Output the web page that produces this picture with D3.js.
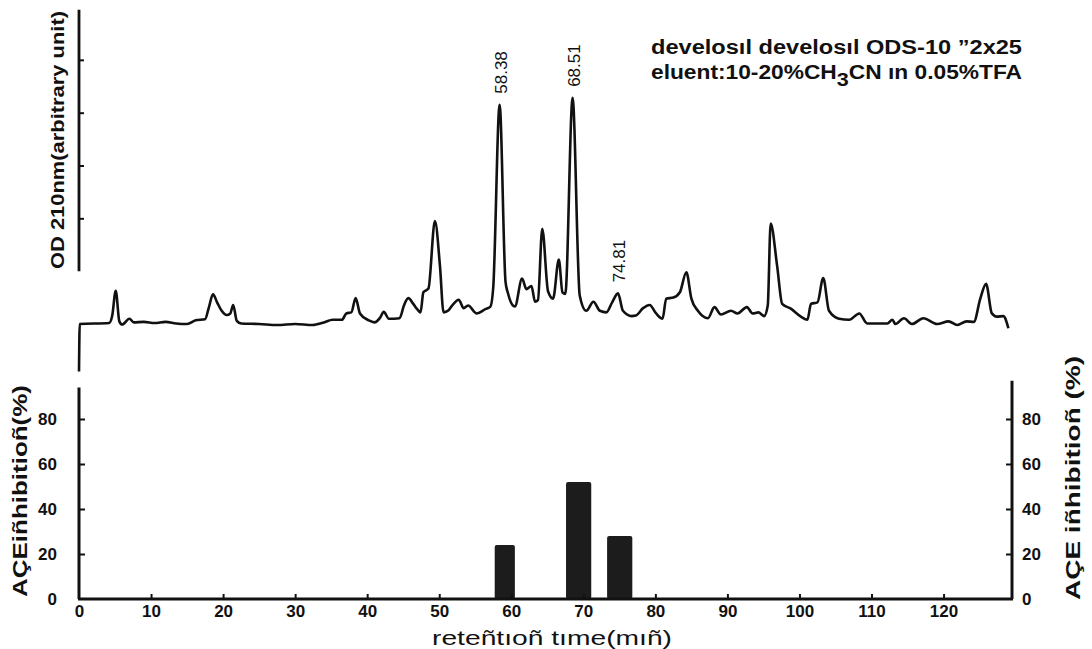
<!DOCTYPE html>
<html><head><meta charset="utf-8">
<script src="https://cdn.jsdelivr.net/npm/d3@7"></script>
<style>
body{margin:0;background:#fff}
text{font-family:"Liberation Sans",Arial,Helvetica,sans-serif;fill:#111}
</style>
</head><body>
<svg id="c" width="1092" height="649"></svg>
<script>
// ---- data ----
const retentionTime = [0,0.1,4.2,4.6,5.1,5.6,6.0,7.0,7.6,9,10.5,12,13.5,15,16.2,17.5,18.0,18.6,19.2,19.8,20.5,21.0,21.4,21.9,22.5,25,27.5,30,32.4,34,35.2,36.5,37.1,37.8,38.4,39.0,40.2,41.0,41.8,42.3,43.0,44.5,45.1,45.7,46.4,47.0,47.4,47.8,48.5,49.4,50.1,50.6,51.3,51.8,52.7,53.4,54.0,55.2,56.4,57.1,57.5,58.38,59.2,59.5,60.5,61.5,62.1,62.8,63.3,63.7,64.3,65.1,65.8,66.6,67.1,67.5,68.51,69.5,70.4,71.4,72.3,73.2,74.0,74.81,75.5,76.7,77.3,78.3,79.2,80.1,81.0,81.5,82.5,83.4,84.3,85.0,85.9,87.3,88.2,89.1,90.5,91.4,92.7,93.5,94.3,95.1,95.6,96.0,96.9,97.6,98.8,100.2,101.1,101.6,102.5,103.3,104.1,105.5,106.9,108.3,109.4,112.2,112.9,113.3,114.5,115.6,117.2,119.1,120.7,121.9,123.2,124.2,125.1,125.9,126.7,127.4,128.3,129.0];
const absorbance = [-0.9,0.0,0.02,0.15,0.63,0.05,-0.01,0.1,0.03,0.04,0.02,0.04,0.01,0.0,0.07,0.09,0.3,0.56,0.4,0.25,0.17,0.2,0.36,0.06,0.01,0.0,-0.02,0.0,-0.02,0.03,0.08,0.08,0.2,0.22,0.49,0.2,0.07,0.03,0.12,0.23,0.1,0.11,0.35,0.49,0.38,0.27,0.22,0.6,0.67,1.95,1.1,0.22,0.26,0.35,0.46,0.3,0.35,0.2,0.28,0.33,0.7,4.15,0.8,0.6,0.33,0.86,0.66,0.72,0.42,0.45,1.8,0.62,0.48,1.22,0.6,0.57,4.28,0.54,0.25,0.42,0.25,0.22,0.41,0.58,0.25,0.15,0.16,0.3,0.36,0.2,0.1,0.48,0.5,0.6,0.98,0.48,0.25,0.11,0.32,0.18,0.25,0.2,0.32,0.2,0.22,0.15,0.35,1.9,1.1,0.38,0.29,0.14,0.08,0.38,0.41,0.87,0.25,0.1,0.08,0.2,0.01,0.01,0.08,0.0,0.11,0.0,0.11,0.0,0.05,-0.02,0.05,0.04,0.48,0.76,0.2,0.14,0.15,-0.08];
const peakLabels = ["58.38","68.51","74.81"];
const peakTimes = [58.38, 68.51, 74.81];
const fractionStart = [57.7, 67.6, 73.3];
const fractionEnd = [60.5, 71.1, 76.8];
const aceInhibition = [24, 52, 28];
const timeTicks = [0,10,20,30,40,50,60,70,80,90,100,110,120];
const inhibitionTicks = [0,20,40,60,80];
const odTicks = [2,3,4,5];

// ---- layout ----
const svg = d3.select("#c");
svg.append("rect").attr("width",1092).attr("height",649).attr("fill","#fff");

const x = d3.scaleLinear().domain([0,129.5]).range([79,1012]);
const yOD = d3.scaleLinear().domain([0,6]).range([324,7]);
const yBar = d3.scaleLinear().domain([0,80]).range([599,419]);

// top OD axis
svg.append("line").attr("x1",79).attr("x2",79).attr("y1",yOD(1)).attr("y2",yOD(5.95))
  .attr("stroke","#111").attr("stroke-width",2.8);
const odAx = svg.append("g").attr("transform","translate(79,0)")
  .call(d3.axisRight(yOD).tickValues(odTicks).tickSize(5).tickFormat(""));
odAx.select(".domain").remove();
odAx.selectAll("line").attr("stroke","#111").attr("stroke-width",2);

function vText(cx, cy, str, size, len, bold){
  return svg.append("text").attr("transform",`translate(${cx},${cy}) rotate(-90)`)
    .attr("text-anchor","middle").attr("font-size",size)
    .attr("font-weight",bold?"bold":"normal")
    .attr("textLength",len).attr("lengthAdjust","spacingAndGlyphs").text(str);
}
vText(64,140,"OD 210nm(arbitrary unit)",19,258,true);

// chromatogram trace
const pts = retentionTime.map((t,i)=>[t,absorbance[i]]);
const line = d3.line().x(d=>x(d[0])).y(d=>yOD(d[1])).curve(d3.curveMonotoneX);
svg.append("path").attr("d",line(pts)).attr("fill","none")
  .attr("stroke","#111").attr("stroke-width",2.6).attr("stroke-linejoin","round");

// peak labels
peakLabels.forEach((lab,i)=>{
  const idx = retentionTime.indexOf(peakTimes[i]);
  const px = x(peakTimes[i]), py = yOD(absorbance[idx]) - 11;
  svg.append("text").attr("transform",`translate(${px+1},${py}) rotate(-90)`)
    .attr("dy","0.35em").attr("font-size",17).text(lab);
});

// annotation
svg.append("text").attr("x",651).attr("y",54).attr("font-size",20).attr("font-weight","bold")
  .attr("textLength",371).attr("lengthAdjust","spacingAndGlyphs")
  .text("develosıl develosıl ODS-10 \u201D2x25");
const ann2 = svg.append("text").attr("x",651).attr("y",79).attr("font-size",20).attr("font-weight","bold")
  .attr("textLength",371).attr("lengthAdjust","spacingAndGlyphs");
ann2.append("tspan").text("eluent:10-20%CH");
ann2.append("tspan").attr("dy",7).attr("font-size",19).text("3");
ann2.append("tspan").attr("dy",-7).text("CN ın 0.05%TFA");

// bottom panel axes
svg.append("line").attr("x1",79).attr("x2",79).attr("y1",yBar(94)).attr("y2",yBar(0))
  .attr("stroke","#111").attr("stroke-width",3);
svg.append("line").attr("x1",1012).attr("x2",1012).attr("y1",yBar(97)).attr("y2",yBar(0))
  .attr("stroke","#111").attr("stroke-width",3);

// bars
svg.append("g").selectAll("rect").data(aceInhibition).join("rect")
  .attr("x",(d,i)=>x(fractionStart[i]))
  .attr("width",(d,i)=>x(fractionEnd[i])-x(fractionStart[i]))
  .attr("y",d=>yBar(d)).attr("height",d=>yBar(0)-yBar(d))
  .attr("rx",2).attr("fill","#1c1c1c");

svg.append("line").attr("x1",78).attr("x2",1013).attr("y1",yBar(0)).attr("y2",yBar(0))
  .attr("stroke","#111").attr("stroke-width",3);

const lAx = svg.append("g").attr("transform","translate(79,0)")
  .call(d3.axisLeft(yBar).tickValues(inhibitionTicks).tickSize(-6).tickPadding(22));
const rAx = svg.append("g").attr("transform","translate(1012,0)")
  .call(d3.axisRight(yBar).tickValues(inhibitionTicks).tickSize(-6).tickPadding(10));
const xAx = svg.append("g").attr("transform",`translate(0,${yBar(0)})`)
  .call(d3.axisBottom(x).tickValues(timeTicks).tickSize(-5).tickPadding(6));
[lAx,rAx,xAx].forEach(g=>{
  g.select(".domain").remove();
  g.selectAll(".tick line").attr("stroke","#111").attr("stroke-width",2);
  g.selectAll(".tick text").attr("font-size",17).attr("font-weight","bold")
    .attr("font-family","'Liberation Sans',Arial,sans-serif").attr("fill","#111");
});
lAx.selectAll(".tick").filter(d=>d===0).select("line").remove();
rAx.selectAll(".tick").filter(d=>d===0).select("line").remove();
xAx.selectAll(".tick").filter(d=>d===0).select("line").remove();

vText(27,491,"AÇEiñhibitioñ(%)",21,212,true);
vText(1080,478,"AÇE iñhibitioñ (%)",21,244,true);
svg.append("text").attr("x",552).attr("y",645).attr("text-anchor","middle")
  .attr("font-size",20).attr("textLength",240).attr("lengthAdjust","spacingAndGlyphs")
  .text("reteñtıoñ tıme(mıñ)");
</script>
</body></html>
